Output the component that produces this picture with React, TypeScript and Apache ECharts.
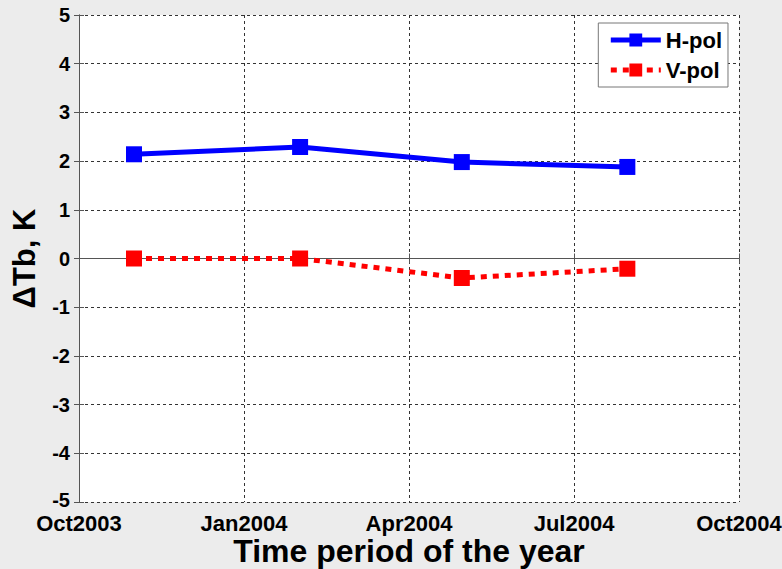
import React, { useEffect, useRef } from "react";
import * as echarts from "echarts";

const xTickLabels = ["Oct2003", "Jan2004", "Apr2004", "Jul2004", "Oct2004"];
// months after 1 Oct 2003
const sampleMonths = [1.0, 4.02, 6.96, 9.97];
const hPol = [2.14, 2.29, 1.98, 1.88];
const vPol = [0.0, 0.0, -0.4, -0.21];
const yTicks = [-5, 5];

const FONT = "'Liberation Sans', Arial, Helvetica, sans-serif";

export default function App() {
  const ref = useRef<HTMLDivElement>(null);
  useEffect(() => {
    if (!ref.current) return;
    const chart = echarts.init(ref.current, undefined, { renderer: "svg" });
    const axisColor = "#555";
    const gridLine = { show: true, lineStyle: { color: "#333", type: [3, 3] as any, width: 1 } };
    chart.setOption({
      animation: false,
      backgroundColor: "#ececec",
      textStyle: { fontFamily: FONT },
      grid: {
        left: 79,
        right: 43,
        top: 15,
        bottom: 67,
        backgroundColor: "#ffffff",
        show: true,
        borderWidth: 0,
        outerBoundsMode: "none",
        containLabel: false,
      },
      legend: {
        right: 54,
        top: 23,
        orient: "vertical",
        backgroundColor: "#ffffff",
        borderColor: "#777",
        borderWidth: 1,
        borderRadius: 0,
        padding: [6, 6, 6, 10],
        itemWidth: 50,
        itemHeight: 16,
        itemGap: 8,
        lineStyle: { width: 5 },
        textStyle: { fontFamily: FONT, fontWeight: "bold", fontSize: 22, color: "#000" },
        data: ["H-pol", "V-pol"],
      },
      xAxis: [
        {
          type: "value",
          min: 0,
          max: 12,
          interval: 3,
          axisLine: { show: true, lineStyle: { color: axisColor } },
          axisTick: { show: true, inside: true, length: 5, lineStyle: { color: axisColor } },
          axisLabel: {
            fontFamily: FONT,
            fontWeight: "bold",
            fontSize: 22,
            lineHeight: 20,
            color: "#000",
            margin: 11,
            formatter: (v: number) => xTickLabels[Math.round(v / 3)] ?? "",
          },
          splitLine: gridLine,
          name: "Time period of the year",
          nameLocation: "middle",
          nameGap: 32,
          nameMoveOverlap: false,
          nameTextStyle: { fontFamily: FONT, fontWeight: "bold", fontSize: 32, lineHeight: 34, color: "#000" },
        },
        {
          type: "value",
          position: "top",
          min: 0,
          max: 12,
          interval: 3,
          axisLine: { show: true, lineStyle: { color: axisColor } },
          axisTick: { show: true, inside: true, length: 5, lineStyle: { color: axisColor } },
          axisLabel: { show: false },
          splitLine: { show: false },
        },
      ],
      yAxis: [
        {
          type: "value",
          min: yTicks[0],
          max: yTicks[1],
          interval: 1,
          axisLine: { show: true, lineStyle: { color: axisColor } },
          axisTick: { show: true, inside: true, length: 5, lineStyle: { color: axisColor } },
          axisLabel: {
            fontFamily: FONT,
            fontWeight: "bold",
            fontSize: 20,
            lineHeight: 14,
            color: "#000",
            margin: 9,
            formatter: (v: number) => (v === yTicks[0] ? "{lo|" + v + "}" : String(v)),
            rich: {
              lo: { fontFamily: FONT, fontWeight: "bold", fontSize: 20, lineHeight: 14, color: "#000", padding: [0, 0, 5, 0] },
            },
          },
          splitLine: gridLine,
          name: "\u0394Tb, K",
          nameLocation: "middle",
          nameGap: 39,
          nameMoveOverlap: false,
          nameTextStyle: { fontFamily: FONT, fontWeight: "bold", fontSize: 31, color: "#000" },
        },
        {
          type: "value",
          position: "right",
          min: yTicks[0],
          max: yTicks[1],
          interval: 1,
          axisLine: { show: true, lineStyle: { color: axisColor } },
          axisTick: { show: true, inside: true, length: 5, lineStyle: { color: axisColor } },
          axisLabel: { show: false },
          splitLine: { show: false },
        },
      ],
      series: [
        {
          name: "H-pol",
          type: "line",
          data: sampleMonths.map((m, i) => [m, hPol[i]]),
          symbol: "rect",
          symbolSize: 16,
          itemStyle: { color: "#0000ff" },
          lineStyle: { color: "#0000ff", width: 5 },
          z: 3,
        },
        {
          name: "V-pol",
          type: "line",
          data: sampleMonths.map((m, i) => [m, vPol[i]]),
          symbol: "rect",
          symbolSize: 16,
          itemStyle: { color: "#ff0000" },
          lineStyle: { color: "#ff0000", width: 5, type: [6, 6] as any },
          z: 3,
        },
      ],
    });
    return () => chart.dispose();
  }, []);
  return <div ref={ref} style={{ width: 782, height: 569, position: "absolute", left: 0, top: 0 }} />;
}
